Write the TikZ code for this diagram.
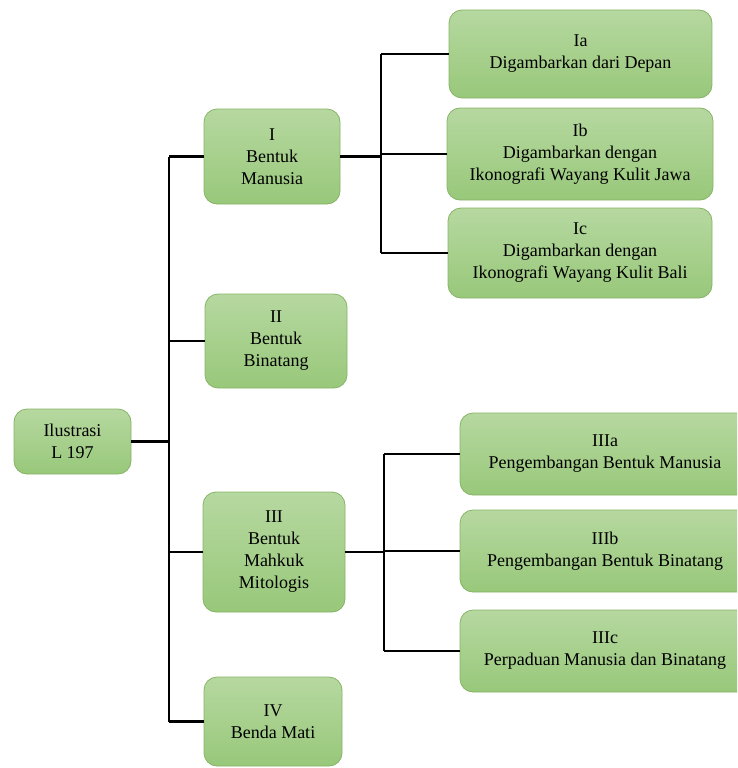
\documentclass[tikz,border=0pt]{standalone}
\usepackage{fontspec}
\setmainfont{Liberation Serif}
\usepackage{tikz}

\definecolor{boxtop}{RGB}{182,216,160}
\definecolor{boxbottom}{RGB}{152,200,122}
\definecolor{boxedge}{RGB}{134,180,102}

\begin{document}
\begin{tikzpicture}[x=1pt, y=-1pt,
        box/.style={draw=boxedge, line width=0.8pt, rounded corners=13pt, top color=boxtop, bottom color=boxbottom,
                align=center, inner sep=0pt, font=\fontsize{18}{22}\selectfont, text=black},
        conn/.style={line width=2.2pt, black}]
                        \useasboundingbox (0, 0) rectangle (737, 768);
                        \clip (0, 0) rectangle (737, 768);
                        % root and first level
                        \node[box, minimum width=117, minimum height=65] (root) at (72.5, 441.5){Ilustrasi\\L 197};
                        \node[box, minimum width=136, minimum height=95] (bm) at (272, 156.5){I\\Bentuk\\Manusia};
                        \node[box, minimum width=142, minimum height=94] (bb) at (276, 341){II\\Bentuk\\Binatang};
                        \node[box, minimum width=142, minimum height=120] (mm) at (274, 552){III\\Bentuk\\Mahkuk\\Mitologis};
                        \node[box, minimum width=138, minimum height=89] (bd) at (273, 721.5){IV\\Benda Mati};
                        % second level
                        \node[box, minimum width=263, minimum height=88] (ia) at (580.5, 54){Ia\\Digambarkan dari Depan};
                        \node[box, minimum width=266, minimum height=92] (ib) at (580, 154){Ib\\Digambarkan dengan\\Ikonografi Wayang Kulit Jawa};
                        \node[box, minimum width=264, minimum height=90] (ic) at (580, 253){Ic\\Digambarkan dengan\\Ikonografi Wayang Kulit Bali};
                        \node[box, minimum width=290, minimum height=82] (iiia) at (605, 454){IIIa\\Pengembangan Bentuk Manusia};
                        \node[box, minimum width=290, minimum height=82] (iiib) at (605, 551){IIIb\\Pengembangan Bentuk Binatang};
                        \node[box, minimum width=290, minimum height=82] (iiic) at (605, 651){IIIc\\Perpaduan Manusia dan Binatang};
                        % connectors
                        \coordinate (trunk) at (169, 0);
                        \coordinate (forkI) at (381, 0);
                        \coordinate (forkIII) at (384, 0);
                        \draw[conn] (root.east) -- (root.east -| trunk);
                        \draw[conn] (trunk |- bm.west) -- (trunk |- bd.west);
                        \foreach \n in {bm, bb, mm, bd}
                                \draw[conn] (trunk |- \n.west) -- (\n.west);
                        \draw[conn] (bm.east) -- (bm.east -| forkI);
                        \draw[conn] (forkI |- ia.west) -- (forkI |- ic.west);
                        \foreach \n in {ia, ib, ic}
                                \draw[conn] (forkI |- \n.west) -- (\n.west);
                        \draw[conn] (mm.east) -- (mm.east -| forkIII);
                        \draw[conn] (forkIII |- iiia.west) -- (forkIII |- iiic.west);
                        \foreach \n in {iiia, iiib, iiic}
                                \draw[conn] (forkIII |- \n.west) -- (\n.west);
                \end{tikzpicture}
\end{document}
